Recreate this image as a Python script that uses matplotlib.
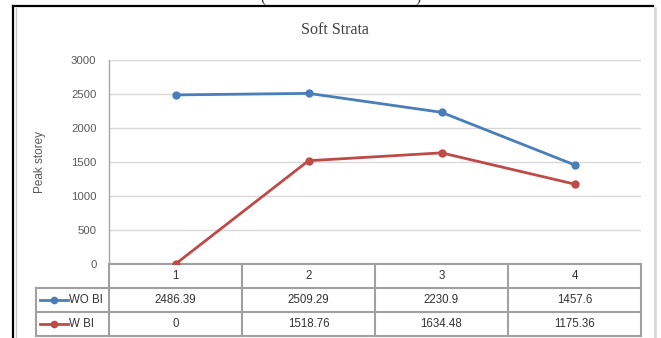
import matplotlib
matplotlib.use("Agg")
import matplotlib.pyplot as plt
from matplotlib.lines import Line2D
import matplotlib.transforms as mtransforms

# Data
categories = ["1", "2", "3", "4"]
wo_bi = [2486.39, 2509.29, 2230.9, 1457.6]
w_bi = [0, 1518.76, 1634.48, 1175.36]
series_names = ["WO BI", "W BI"]
y_ticks = [0, 500, 1000, 1500, 2000, 2500, 3000]

W, H = 661, 338
fig = plt.figure(figsize=(W / 100, H / 100), dpi=100)
fig.patch.set_facecolor("white")

def fx(px):
    return px / W

def fy(py):
    return 1 - py / H

# plot area in pixel terms
left, right, top, bottom = 109, 641, 60, 264
ax = fig.add_axes([fx(left), fy(bottom), fx(right - left), (bottom - top) / H])

blue = "#4A7EBB"
red = "#BE4B48"
xs = list(range(1, len(categories) + 1))

ax.plot(xs, wo_bi, color=blue, lw=2.0, marker="o", ms=5.0, zorder=3,
        solid_capstyle="round")
ax.plot(xs, w_bi, color=red, lw=2.0, marker="o", ms=5.0, zorder=3,
        solid_capstyle="round")

ax.set_xlim(0.5, len(categories) + 0.5)
ax.set_ylim(0, 3000)
ax.set_yticks(y_ticks)
ax.set_yticklabels([str(t) for t in y_ticks])
ax.set_xticks([])
ax.tick_params(axis="y", length=0, pad=9, labelsize=8.2, labelcolor="#595959")
for lab in ax.get_yticklabels():
    lab.set_fontfamily("Liberation Sans")
ax.grid(axis="y", color="#D9D9D9", lw=1.0)
ax.set_axisbelow(True)
for s in ["top", "right", "bottom"]:
    ax.spines[s].set_visible(False)
ax.spines["left"].set_color("#A6A6A6")
ax.spines["left"].set_linewidth(1.0)
ax.axhline(0, color="#A0A0A0", lw=1.5, zorder=2)

ax.set_ylabel("Peak storey", fontsize=8.5, color="#595959",
              fontfamily="Liberation Sans", labelpad=18)

# Data table below the plot: x in data units, y in axes units
trans = mtransforms.blended_transform_factory(ax.transData, ax.transAxes)
row_h = 24 / (bottom - top)
grid_col = "#A0A0A0"
unit = (right - left) / len(categories)
legend_left = 0.5 + (36 - left) / unit
x_left = 0.5
x_right = len(categories) + 0.5

def hline(y, x0, x1):
    ax.add_line(Line2D([x0, x1], [y, y], transform=trans, color=grid_col,
                       lw=1.5, clip_on=False))

def vline(x, y0, y1):
    ax.add_line(Line2D([x, x], [y0, y1], transform=trans, color=grid_col,
                       lw=1.5, clip_on=False))

hline(0, x_left, x_right)
hline(-row_h, legend_left, x_right)
hline(-2 * row_h, legend_left, x_right)
hline(-3 * row_h, legend_left, x_right)
vline(legend_left, -row_h, -3 * row_h)
for i in range(len(categories) + 1):
    vline(0.5 + i, 0, -3 * row_h)

txt_kw = dict(transform=trans, ha="center", va="center", fontsize=8.3,
              color="#333333", fontfamily="Liberation Sans", clip_on=False)
for i, c in enumerate(categories):
    ax.text(xs[i], -0.5 * row_h, c, **txt_kw)
for r, (vals, name, col) in enumerate(zip([wo_bi, w_bi], series_names, [blue, red])):
    yc = -(1.5 + r) * row_h
    for i, v in enumerate(vals):
        ax.text(xs[i], yc, f"{v:g}", **txt_kw)
    # legend key inside the row header
    k0 = legend_left + 4 / unit
    k1 = legend_left + 32 / unit
    ax.add_line(Line2D([k0, k1], [yc, yc], transform=trans, color=col, lw=2.0,
                       clip_on=False))
    ax.add_line(Line2D([(k0 + k1) / 2], [yc], transform=trans, color=col,
                       marker="o", ms=4.5, clip_on=False))
    ax.text(k1 + 1 / unit, yc, name, transform=trans, ha="left", va="center",
            fontsize=8.3, color="#333333", fontfamily="Liberation Sans",
            clip_on=False)

# Title
fig.text(fx(335), fy(30), "Soft Strata", ha="center", va="center",
         fontsize=11.5, color="#404040", fontfamily="Liberation Serif")

# Chart frame
fig.add_artist(Line2D([fx(13), fx(653)], [fy(6), fy(6)], color="black", lw=1.6))
fig.add_artist(Line2D([fx(13), fx(13)], [fy(6), fy(338)], color="black", lw=1.6))
fig.add_artist(Line2D([fx(15.5), fx(15.5)], [fy(8), fy(338)], color="#C8C8C8", lw=1.0))
fig.add_artist(Line2D([fx(655), fx(655)], [fy(8), fy(338)], color="#D4D4D4", lw=1.8))

# Caption brackets running off the top edge
fig.text(fx(263), fy(-2), "(", ha="center", va="center", fontsize=11,
         color="#333333", fontfamily="Liberation Serif")
fig.text(fx(418), fy(-2), ")", ha="center", va="center", fontsize=11,
         color="#333333", fontfamily="Liberation Serif")

fig.savefig("out.png", dpi=100, facecolor="white")
